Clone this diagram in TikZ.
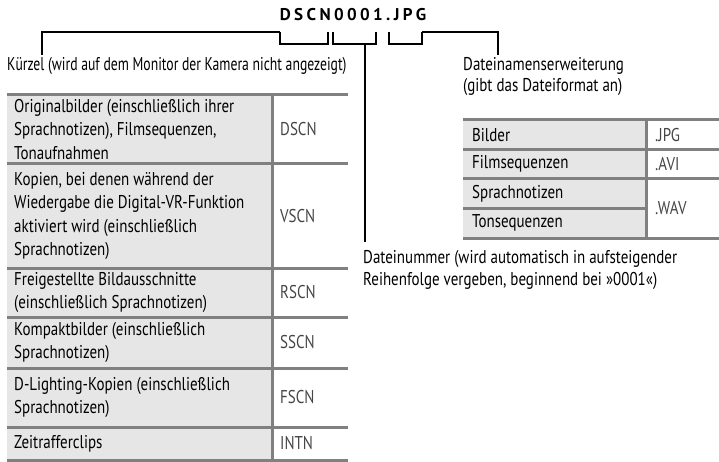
\documentclass[tikz,border=0pt]{standalone}
\usepackage{fontspec}
\setmainfont{PT Sans}[FakeStretch=0.81]
\newfontfamily\narrowfont{PT Sans}[FakeStretch=0.74]
\newfontfamily\titlefont{PT Sans}[LetterSpace=20]
\usepackage{tikz}
\usetikzlibrary{positioning,calc}
\definecolor{ruleGray}{HTML}{808080}
\definecolor{cellGray}{HTML}{E6E6E6}
\definecolor{codeGray}{HTML}{454545}

\begin{document}
\begin{tikzpicture}[x=1pt, y=-1pt,
    font=\fontsize{18.5}{23.5}\selectfont,
    rule/.style={draw=ruleGray, line width=3pt},
    leader/.style={draw=black, line width=1.8pt},
    txt/.style={inner sep=0pt, align=left, anchor=west},
    code/.style={txt, text=codeGray},
    note/.style={inner sep=0pt, align=left, anchor=base west, font=\fontsize{18.5}{21.5}\selectfont}
]
\useasboundingbox (0,0) rectangle (719,462);

% Dateiname
\node[font=\titlefont\fontsize{17}{17}\selectfont\bfseries, inner sep=0pt] (name) at (353,15) {DSCN0001.JPG};

% Klammern unter dem Namen
\foreach \n/\l/\r in {b1/280/328, b2/333/376, b3/389/422} {
    \coordinate (\n l) at (\l,32);
    \coordinate (\n r) at (\r,32);
    \draw[leader] (\n l) -- (\l,44) -- (\r,44) -- (\n r);
}
\coordinate (b2m) at (365,44);

% Beschriftungen (base = letzte Zeile)
\node[note, font=\narrowfont\fontsize{18.5}{21.5}\selectfont] (kuerzel) at (7,71) {Kürzel (wird auf dem Monitor der Kamera nicht angezeigt)};
\node[note] (endung) at (463,92) {Dateinamenserweiterung\\(gibt das Dateiformat an)};
\node[note] (nummer) at (363,285) {Dateinummer (wird automatisch in aufsteigender\\Reihenfolge vergeben, beginnend bei »0001«)};
\coordinate (kzEnd) at (42,55);
\coordinate (endEnd) at (498,55);
\coordinate (nrEnd) at (365,242);

\draw[leader] (kzEnd) |- (b1l);
\draw[leader] (b3r) -| (endEnd);
\draw[leader] (b2m) -- (nrEnd);

% Tabelle Kürzel
\foreach \i/\ya/\yb/\txt/\cd in {
    1/95/164/{Originalbilder (einschließlich ihrer\\Sprachnotizen), Filmsequenzen,\\Tonaufnahmen}/DSCN,
    2/164/268/{Kopien, bei denen während der\\Wiedergabe die Digital-VR-Funktion\\aktiviert wird (einschließlich\\Sprachnotizen)}/VSCN,
    3/268/317/{Freigestellte Bildausschnitte\\(einschließlich Sprachnotizen)}/RSCN,
    4/317/368/{Kompaktbilder (einschließlich\\Sprachnotizen)}/SSCN,
    5/368/427/{D-Lighting-Kopien (einschließlich\\Sprachnotizen)}/FSCN,
    6/427/460/{Zeitrafferclips}/INTN} {
    \fill[cellGray] (7,\ya) rectangle (272,\yb);
    \node[txt] (art\i) at (14,{(\ya+\yb)/2}) {\txt};
    \node[code] (kz\i) at (280,{(\ya+\yb)/2}) {\cd};
    \draw[rule] (7,\ya) -- (348,\ya);
}
\draw[rule] (7,460) -- (348,460);
\draw[rule] (272,95) -- (272,460);

% Tabelle Dateiformate
\foreach \i/\ya/\yb/\txt in {1/120/149.5/Bilder, 2/149.5/179/Filmsequenzen,
                             3/179/208.5/Sprachnotizen, 4/208.5/238/Tonsequenzen} {
    \fill[cellGray] (463,\ya) rectangle (646,\yb);
    \node[txt] (typ\i) at (472,{(\ya+\yb)/2}) {\txt};
}
\foreach \y in {120,149.5,179,238}
    \draw[rule] (463,\y) -- (719,\y);
\draw[rule] (463,208.5) -- (646,208.5);
\draw[rule] (646,120) -- (646,238);
\node[code] (ext1) at (655,134.75) {.JPG};
\node[code] (ext2) at (655,164.25) {.AVI};
\node[code] (ext3) at (655,208.5) {.WAV};
\end{tikzpicture}
\end{document}
